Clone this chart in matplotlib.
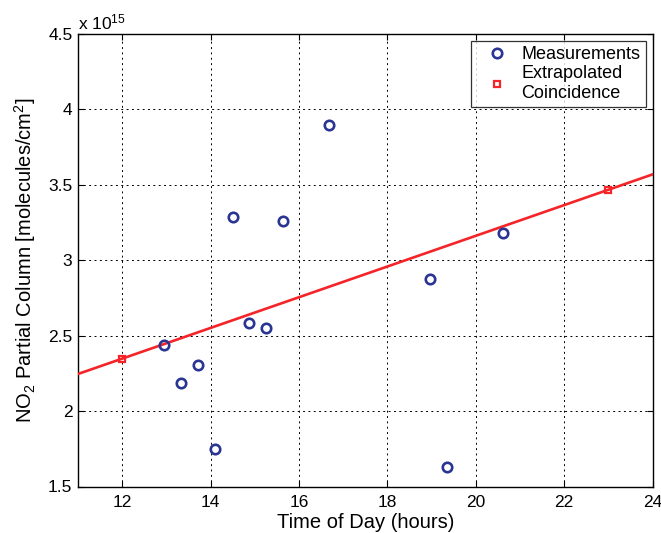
import numpy as np
import matplotlib
matplotlib.use("Agg")
import matplotlib.pyplot as plt

# NO2 partial column measurements (units of 1e15 molecules/cm^2)
meas_time = [12.95, 13.33, 13.71, 14.10, 14.50, 14.88, 15.26, 15.64, 16.69, 18.96, 19.34, 20.62]
meas_no2 = [2.436, 2.186, 2.308, 1.746, 3.290, 2.587, 2.551, 3.263, 3.896, 2.874, 1.626, 3.181]

# extrapolated coincidence points and trend line
coinc_time = [12.0, 23.0]
coinc_no2 = [2.348, 3.467]
trend_time = [11.0, 24.0]
trend_no2 = [2.246, 3.569]

xticks = [12, 14, 16, 18, 20, 22, 24]
yticks = [1.5, 2, 2.5, 3, 3.5, 4, 4.5]

plt.rcParams['font.family'] = ['Liberation Sans', 'DejaVu Sans']
plt.rcParams['mathtext.fontset'] = 'custom'
plt.rcParams['mathtext.rm'] = 'Liberation Sans'
plt.rcParams['mathtext.it'] = 'Liberation Sans'

fig = plt.figure(figsize=(6.61, 5.33), dpi=100)
ax = fig.add_axes([78/661, 1 - 486.5/533, (652.5 - 78)/661, (486.5 - 34)/533])

ax.plot(trend_time, trend_no2, color='#f42428', lw=1.9, zorder=3)
ax.plot(meas_time, meas_no2, 'o', ms=6.8, mfc='none', mec='#2a3593', mew=1.9,
        label='Measurements', zorder=4)
ax.plot(coinc_time, coinc_no2, 's', ms=5, mfc='none', mec='#f42428', mew=1.6,
        label='Extrapolated\nCoincidence', zorder=4)

ax.set_xlim(11, 24)
ax.set_ylim(1.5, 4.5)
ax.set_xticks(xticks)
ax.set_yticks(yticks)
ax.set_yticklabels(['1.5', '2', '2.5', '3', '3.5', '4', '4.5'])
ax.tick_params(direction='in', top=True, right=True, labelsize=12.5, length=4)
ax.tick_params(axis='y', pad=4)
ax.tick_params(axis='x', pad=6)
ax.grid(True, color='black', linestyle=(0, (2, 3.5)), lw=0.7)
for s in ax.spines.values():
    s.set_linewidth(1.0)

ax.set_xlabel('Time of Day (hours)', fontsize=14.5, labelpad=2)
ax.set_ylabel('NO$_2$ Partial Column [molecules/cm$^2$]', fontsize=14.5, labelpad=7)
ax.text(0.0, 1.003, 'x 10$^{15}$', transform=ax.transAxes, fontsize=12.5,
        ha='left', va='bottom')

leg = ax.legend(loc='upper right', fontsize=13, frameon=True, fancybox=False,
                edgecolor='black', borderpad=0.3, handlelength=2.3,
                handletextpad=0.2, labelspacing=0.1, borderaxespad=0,
                bbox_to_anchor=(1 - 6.5/574.5, 1 - 7/452.5))
leg.get_frame().set_linewidth(0.9)

fig.savefig('out.png', dpi=100)
